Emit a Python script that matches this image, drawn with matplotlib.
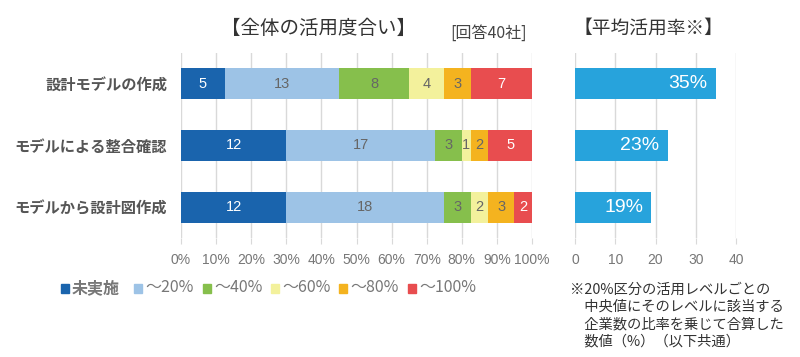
import matplotlib
matplotlib.use("Agg")
import matplotlib.pyplot as plt
import numpy as np
from matplotlib.patches import Rectangle

plt.rcParams['font.family'] = ['Noto Sans CJK JP', 'DejaVu Sans']

categories = ["設計モデルの作成", "モデルによる整合確認", "モデルから設計図作成"]
series_names = ["未実施", "～20%", "～40%", "～60%", "～80%", "～100%"]
counts = [
    [5, 13, 8, 4, 3, 7],
    [12, 17, 3, 1, 2, 5],
    [12, 18, 3, 2, 3, 2],
]
avg_rate = [35, 23, 19]
pct_ticks = ["0%", "10%", "20%", "30%", "40%", "50%", "60%", "70%", "80%", "90%", "100%"]
rate_ticks = [0, 10, 20, 30, 40]

colors = ["#1a64ad", "#9dc3e6", "#86bf4c", "#f3f19c", "#f4b31f", "#e84d4f"]
text_colors = ["white", "#666666", "#666666", "#666666", "#666666", "white"]
gray = "#777777"
grid_c = "#d9d9d9"
num_font = ['Liberation Sans', 'DejaVu Sans']

fig = plt.figure(figsize=(8, 3.57), dpi=100)

# Left stacked bar chart
ax = fig.add_axes([181/800, 1-238/357, 351/800, 185/357])
y = np.arange(len(categories))
for i, row in enumerate(counts):
    total = sum(row)
    left = 0
    for j, v in enumerate(row):
        w = v / total * 100
        ax.barh(i, w, left=left, height=0.5, color=colors[j], zorder=3)
        ax.text(left + w/2, i, str(v), ha='center', va='center', fontsize=10.5,
                color=text_colors[j], zorder=4, family=num_font)
        left += w
ax.set_xlim(0, 100)
ax.set_ylim(2.5, -0.5)
ax.set_xticks(np.arange(0, 101, 10))
ax.set_xticklabels(pct_ticks, fontsize=10, color=gray, family=num_font)
ax.set_yticks(y)
ax.set_yticklabels(categories, fontsize=11, color="#555555", fontweight='bold')
ax.tick_params(axis='x', length=4, color=grid_c, pad=7)
ax.tick_params(axis='y', length=0, pad=10)
ax.grid(axis='x', color=grid_c, linewidth=1, zorder=0)
for s in ax.spines.values():
    s.set_visible(False)

# Right average bar chart
ax2 = fig.add_axes([575/800, 1-238/357, 161/800, 185/357])
ax2.barh(y, avg_rate, height=0.5, color="#27a3dc", zorder=3)
for i, v in enumerate(avg_rate):
    ax2.text(v - 2.0, i, f"{v}%", ha='right', va='center', fontsize=14,
             color='white', zorder=4, family=num_font)
ax2.set_xlim(0, 40)
ax2.set_ylim(2.5, -0.5)
ax2.set_xticks(rate_ticks)
ax2.set_xticklabels([str(t) for t in rate_ticks], fontsize=10, color=gray, family=num_font)
ax2.set_yticks([])
ax2.tick_params(axis='x', length=4, color=grid_c, pad=7)
ax2.grid(axis='x', color=grid_c, linewidth=1, zorder=0)
for s in ax2.spines.values():
    s.set_visible(False)

# Titles
fig.text(318/800, 1-28/357, "【全体の活用度合い】", ha='center', va='center', fontsize=14, color="#333333")
fig.text(489/800, 1-33/357, "[回答40社]", ha='center', va='center', fontsize=11.5, color="#444444")
fig.text(648/800, 1-28/357, "【平均活用率※】", ha='center', va='center', fontsize=13.5, color="#333333")

# Legend
ly = 1-288/357
positions = [61, 134, 203, 271, 339, 408]
for j, name in enumerate(series_names):
    px = positions[j]
    fig.patches.append(Rectangle((px/800, ly-5/357), 8/800, 9.5/357, transform=fig.transFigure,
                                 color=colors[j], figure=fig))
    fig.text((px+11)/800, ly, name, ha='left', va='center', fontsize=11.5, color=gray,
             fontweight='bold' if j == 0 else 'normal')

# Footnote
note = ["※20%区分の活用レベルごとの", "　中央値にそのレベルに該当する", "　企業数の比率を乗じて合算した", "　数値（%）（以下共通）"]
for k, line in enumerate(note):
    fig.text(570/800, 1-(290+17*k)/357, line, ha='left', va='center', fontsize=10.3, color="#333333")

fig.savefig("out.png", dpi=100)
